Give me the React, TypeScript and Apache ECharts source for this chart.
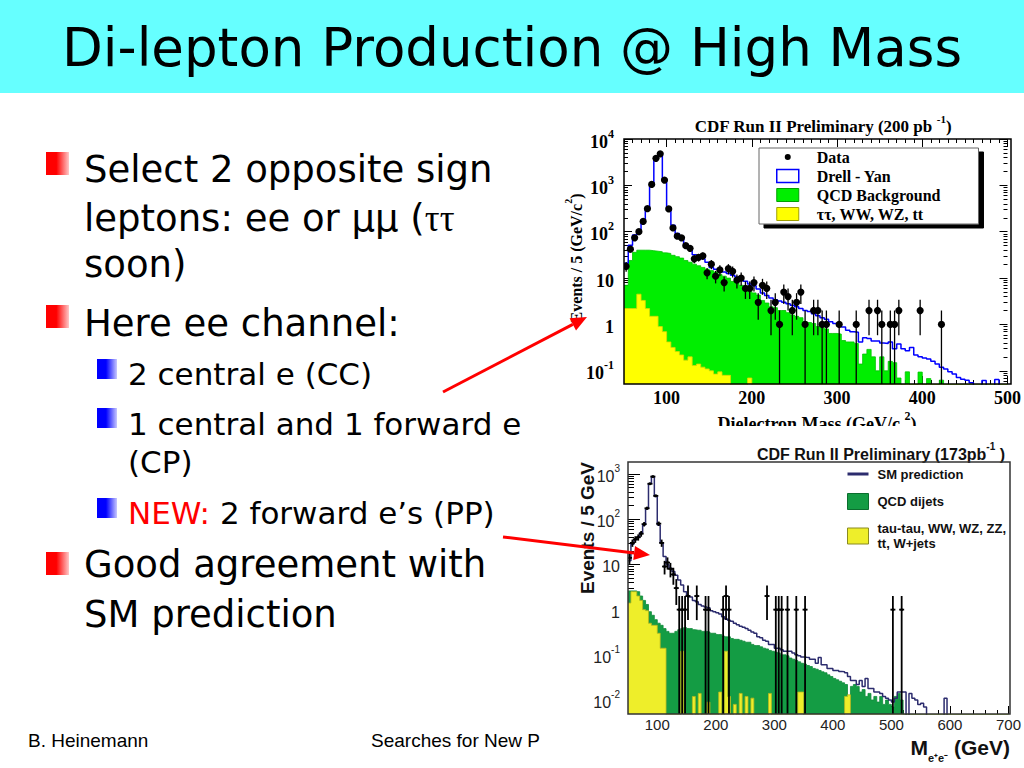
import { useEffect, useRef } from 'react';
import * as echarts from 'echarts';

// ---------- shared binning ----------
const X0 = 50; // first bin edge (GeV)
const BIN = 5; // bin width (GeV)
const FLOOR = 1e-4; // empty bins are drawn below the log axes

// ---------- top figure: CDF Run II Preliminary (200 pb-1) ----------
const topBinCount = 90; // 50 - 500 GeV
const topDrellYan = [
  21, 51, 85, 100, 170, 330, 1050, 3800, 4750, 1350,
  315, 138, 92, 78, 51, 44, 32, 30, 26, 22,
  17, 15.5, 14.5, 13.5, 12.5, 11.5, 10.5, 9.5, 8.5, 7.5,
  6.8, 5.8, 4.8, 4.2, 3.7, 3.4, 3.2, 3.0, 2.8, 2.6,
  2.4, 2.2, 2.0, 1.9, 1.7, 1.55, 1.4, 1.3, 1.15, 1.05,
  0.92, 0.88, 0.75, 0.7, 0.68, 0.42, 0.52, 0.5, 0.44, 0.44,
  0.4, 0.39, 0.42, 0.3, 0.38, 0.3, 0.27, 0.32, 0.22, 0.2,
  0.19, 0.18, 0.16, 0.14, 0.12, 0.11, 0.095, 0.085, 0.072, 0.066,
  0.063, 0.055, 0.04, 0.04, 0.062, 0.04, 0.04, 0.065, 0.04, 0.04,
];
const topQcd = [
  7, 24, 36, 40, 40, 40, 39, 38, 37, 35,
  34, 31, 29, 27, 24, 22, 20, 18.5, 17, 15.5,
  14.5, 13.5, 12, 11, 10, 8.5, 8, 7, 6, 5.5,
  4.8, 4.3, 3.3, 2.9, 2.4, 2.3, 2.0, 2.0, 1.8, 1.6,
  1.5, 1.4, 1.15, 1.1, 1.05, 0.9, 0.85, 0.8, 0.64, 0.64,
  0.62, 0.45, 0.42, 0.42, 0.39, 0.14, 0.23, 0.29, 0.2, 0.1,
  0.2, 0.1, 0.16, 0.15, 0.07, 0, 0.095, 0, 0, 0.094,
  0, 0.068, 0, 0, 0.063, 0, 0, 0, 0, 0,
];
const topOther = [
  2.2, 2.2, 2.2, 4.5, 3.3, 2.2, 1.5, 1.5, 0.9, 0.7,
  0.42, 0.32, 0.26, 0.22, 0.17, 0.2, 0.13, 0.14, 0.12, 0.11,
  0.1, 0.085, 0.095, 0.08, 0.08, 0, 0, 0, 0, 0.07,
];
const topData = [
  18, 42, 74, 100, 167, 315, 1050, 3830, 4780, 1300,
  310, 121, 80, 74, 50, 44, 26, 28, 30, 13,
  20, 11, 15, 8, 16, 14, 9, 10, 6, 6,
  8, 3, 7, 6, 2, 3, 1, 5, 4, 2,
  3, 5, 1, 0, 2, 2, 1, 1, 0, 0,
  1, 0, 0, 0, 1, 0, 0, 2, 0, 2,
  1, 0, 1, 1, 2, 0, 0, 0, 0, 2,
  0, 0, 0, 0, 1,
];
const topXLabels = [100, 200, 300, 400, 500];
const topYLabels = [0.1, 1, 10, 100, 1000, 10000];

// ---------- bottom figure: CDF Run II Preliminary (173 pb-1) ----------
const botBinCount = 130; // 50 - 700 GeV
const botSm = [
  12, 28, 35, 40, 50, 75, 170, 620, 880, 320,
  75, 30, 15, 9.8, 8.2, 7, 5.8, 4.5, 3.5, 2.5,
  2.0, 1.9, 1.6, 1.5, 1.3, 1.2, 1.15, 1.1, 0.95, 0.9,
  0.85, 0.8, 0.7, 0.62, 0.58, 0.55, 0.5, 0.46, 0.43, 0.41,
  0.38, 0.35, 0.32, 0.3, 0.25, 0.24, 0.21, 0.2, 0.17, 0.17,
  0.14, 0.14, 0.13, 0.12, 0.12, 0.12, 0.11, 0.1, 0.095, 0.09,
  0.088, 0.087, 0.08, 0.08, 0.065, 0.087, 0.06, 0.06, 0.05, 0.05,
  0.045, 0.045, 0.043, 0.042, 0.04, 0.033, 0.027, 0.027, 0.022, 0.027,
  0.02, 0.03, 0.018, 0.018, 0.015, 0.015, 0.014, 0.012, 0.011, 0.01,
  0.009, 0.011, 0.015, 0.015, 0.015, 0, 0.014, 0.011, 0.01, 0.008,
  0.0085, 0.007, 0, 0, 0, 0, 0, 0, 0.011,
];
const botQcd = [
  2.6, 2.6, 2.6, 2.5, 2.0, 1.6, 1.3, 0.9, 0.75, 0.6,
  0.5, 0.45, 0.38, 0.33, 0.3, 0.3, 0.33, 0.36, 0.38, 0.4,
  0.38, 0.38, 0.36, 0.35, 0.35, 0.33, 0.33, 0.32, 0.3, 0.3,
  0.28, 0.28, 0.26, 0.25, 0.25, 0.23, 0.22, 0.22, 0.21, 0.2,
  0.19, 0.19, 0.17, 0.16, 0.16, 0.15, 0.14, 0.135, 0.125, 0.12,
  0.115, 0.11, 0.1, 0.1, 0.095, 0.085, 0.08, 0.075, 0.07, 0.065,
  0.062, 0.058, 0.055, 0.05, 0.048, 0.045, 0.042, 0.04, 0.036, 0.033,
  0.03, 0.028, 0.026, 0.024, 0.022, 0.01, 0.02, 0.022, 0.02, 0.015,
  0.017, 0.012, 0.014, 0.01, 0.012, 0.009, 0.012, 0.008, 0.01, 0.008,
  0.007, 0.012, 0.014, 0.01, 0,
];
const botOther = [
  1.4, 2.5, 2.5, 2.0, 1.6, 1.0, 0.95, 0.5, 0.45, 0.45,
  0.3, 0.14, 0.14, 0, 0, 0, 0, 0, 0.12, 0,
  0, 0, 0.012, 0, 0.014, 0, 0, 0.009, 0, 0,
  0, 0.015, 0, 0.12, 0.012, 0, 0.008, 0, 0.014, 0,
  0.012, 0, 0.011, 0, 0, 0, 0, 0, 0.014, 0,
  0, 0, 0, 0, 0, 0, 0, 0, 0.015, 0.015,
  0, 0, 0, 0, 0, 0, 0, 0, 0, 0,
  0, 0, 0, 0, 0.012, 0.013,
];
const botData = [
  14, 30, 36, 40, 48, 78, 175, 610, 880, 330,
  80, 30, 9, 11, 8, 6, 3, 1, 1, 1,
  2, 0, 0, 2, 0, 0, 1, 1, 0, 0,
  0, 0, 1, 2, 1, 0, 0, 0, 0, 0,
  0, 0, 0, 0, 0, 0, 0, 2, 0, 0,
  1, 1, 1, 0, 1, 0, 0, 1, 0, 0,
  1, 0, 0, 0, 0, 0, 0, 0, 0, 0,
  0, 0, 0, 0, 0, 0, 0, 0, 0, 0,
  0, 0, 0, 0, 0, 0, 0, 0, 0, 0,
  1, 0, 0, 1,
];
const botXLabels = [100, 200, 300, 400, 500, 600, 700];
const botYLabels = [0.01, 0.1, 1, 10, 100, 1000];

// ---------- slide text ----------
const slideTitle = 'Di-lepton Production @ High Mass';
const footerLeft = 'B. Heinemann';
const footerMid = 'Searches for New P';

// ---------- layout ----------
const G1 = { left: 624, top: 139, width: 387, height: 245 };
const G2 = { left: 628, top: 462, width: 382, height: 252 };
const SERIF = 'Liberation Serif';
const SANS = 'Liberation Sans';
const SLIDE = 'DejaVu Sans';

function hist(vals: number[], n: number): number[][] {
  const pts: number[][] = [];
  for (let i = 0; i < n; i++) {
    const v = i < vals.length ? vals[i] : 0;
    pts.push([X0 + BIN * i, v > 0 ? v : FLOOR]);
  }
  pts.push([X0 + BIN * n, pts[n - 1][1]]);
  return pts;
}

function points(counts: number[]): number[][] {
  const out: number[][] = [];
  counts.forEach((n, i) => {
    if (n > 0) {
      const e = Math.sqrt(n);
      out.push([X0 + BIN * i + BIN / 2, n, Math.max(n - e, FLOOR), n + e]);
    }
  });
  return out;
}

function logMinor(lo: number, hi: number): number[] {
  const out: number[] = [];
  for (let e = lo; e <= hi; e++) for (let k = 2; k <= 9; k++) out.push(+(k * Math.pow(10, e)).toPrecision(3));
  return out;
}
function linMinor(from: number, to: number, step: number, major: number[]): number[] {
  const out: number[] = [];
  for (let v = from; v <= to; v += step) if (major.indexOf(v) < 0) out.push(v);
  return out;
}

function supRich(family: string, size: number, weight: string, color = '#000') {
  return {
    a: { fontFamily: family, fontSize: size, fontWeight: weight, fill: color, color, padding: [5, 0, 0, 0], verticalAlign: 'bottom' },
    s: { fontFamily: family, fontSize: Math.round(size * 0.65), fontWeight: weight, fill: color, color, verticalAlign: 'top' },
  };
}
const logLabel = (v: number) => {
  const e = Math.round(Math.log10(v));
  if (e === 0) return '{a|1}';
  if (e === 1) return '{a|10}';
  return `{a|10}{s|${e}}`;
};

function axes(gridIndex: number, position: string, scale: any, major: number[], minor: number[], majorLen: number, minorLen: number, label: any) {
  const base = {
    gridIndex, position, ...scale,
    axisLine: { show: false, onZero: false },
    splitLine: { show: false },
    axisPointer: { show: false },
    silent: true,
  };
  const tl = { color: '#000', width: 1 };
  return [
    { ...base, axisTick: { show: true, inside: true, length: majorLen, customValues: major, lineStyle: tl }, axisLabel: label ? { ...label, customValues: major } : { show: false } },
    { ...base, axisTick: { show: true, inside: true, length: minorLen, customValues: minor, lineStyle: tl }, axisLabel: { show: false } },
  ];
}

function errRender(r: number, lw: number, cap: number) {
  return (params: any, api: any) => {
    const cs = params.coordSys;
    const top = cs.y, bottom = cs.y + cs.height;
    const x = api.value(0), y = api.value(1), lo = api.value(2), hi = api.value(3);
    const p = api.coord([x, y]);
    const pl = api.coord([x, lo]);
    const ph = api.coord([x, hi]);
    const children: any[] = [
      { type: 'line', shape: { x1: p[0], y1: Math.max(ph[1], top), x2: p[0], y2: Math.min(pl[1], bottom) }, style: { stroke: '#000', lineWidth: lw } },
    ];
    if (cap > 0) children.push({ type: 'line', shape: { x1: p[0] - cap, y1: p[1], x2: p[0] + cap, y2: p[1] }, style: { stroke: '#000', lineWidth: lw } });
    if (p[1] <= bottom) children.push({ type: 'circle', shape: { cx: p[0], cy: p[1], r }, style: { fill: '#000' } });
    return { type: 'group', children };
  };
}

function arrow(x1: number, y1: number, x2: number, y2: number) {
  const dx = x2 - x1, dy = y2 - y1;
  const len = Math.sqrt(dx * dx + dy * dy);
  const ux = dx / len, uy = dy / len;
  const hl = 16, hw = 7;
  const bx = x2 - ux * hl, by = y2 - uy * hl;
  return [
    { type: 'line', z: 200, silent: true, shape: { x1, y1, x2: bx, y2: by }, style: { stroke: '#ff0000', lineWidth: 3 } },
    { type: 'polygon', z: 200, silent: true, shape: { points: [[x2, y2], [bx - uy * hw, by + ux * hw], [bx + uy * hw, by - ux * hw]] }, style: { fill: '#ff0000' } },
  ];
}

function grad(a: string, b: string) {
  return new echarts.graphic.LinearGradient(0, 0, 1, 0, [
    { offset: 0, color: a }, { offset: 0.45, color: a }, { offset: 1, color: b },
  ]);
}

function buildOption(): any {
  const topScaleX = { type: 'value', min: 50, max: 500 };
  const topScaleY = { type: 'log', logBase: 10, min: 0.052, max: 10000 };
  const botScaleX = { type: 'value', min: 50, max: 700 };
  const botScaleY = { type: 'log', logBase: 10, min: 0.0049, max: 1850 };

  const topXLabel = { show: true, margin: 5, fontFamily: SERIF, fontWeight: 'bold', fontSize: 18, color: '#000' };
  const topYLabel = { show: true, margin: 10, formatter: logLabel, rich: supRich(SERIF, 18, 'bold') };
  const botXLabel = { show: true, margin: 3, fontFamily: SANS, fontSize: 15, color: '#222' };
  const botYLabel = { show: true, margin: 8, formatter: logLabel, rich: supRich(SANS, 16, 'normal', '#222') };

  const topXMinor = linMinor(50, 500, 10, topXLabels);
  const botXMinor = linMinor(60, 700, 20, botXLabels);

  const xAxis = [
    ...axes(0, 'bottom', topScaleX, topXLabels, topXMinor, 8, 4, topXLabel),
    ...axes(0, 'top', topScaleX, topXLabels, topXMinor, 8, 4, null),
    ...axes(1, 'bottom', botScaleX, botXLabels, botXMinor, 8, 4, botXLabel),
  ];
  const yAxis = [
    ...axes(0, 'left', topScaleY, topYLabels, logMinor(-2, 3), 8, 4, topYLabel),
    ...axes(0, 'right', topScaleY, topYLabels, logMinor(-2, 3), 8, 4, null),
    ...axes(1, 'left', botScaleY, botYLabels, logMinor(-3, 3), 12, 6, botYLabel),
  ];

  const common = { type: 'line', step: 'end', symbol: 'none', silent: true, emphasis: { disabled: true }, clip: true };
  const series: any[] = [
    { ...common, name: 'QCD Background', xAxisIndex: 0, yAxisIndex: 0, data: hist(topQcd, topBinCount),
      lineStyle: { color: '#00c400', width: 0.8 }, itemStyle: { color: '#00ee00' }, areaStyle: { color: '#00ee00', opacity: 1, origin: 'start' }, z: 2 },
    { ...common, name: 'ττ, WW, WZ, tt', xAxisIndex: 0, yAxisIndex: 0, data: hist(topOther, topBinCount),
      lineStyle: { color: '#d8d800', width: 0.8 }, itemStyle: { color: '#ffff00' }, areaStyle: { color: '#ffff00', opacity: 1, origin: 'start' }, z: 3 },
    { ...common, name: 'Drell - Yan', xAxisIndex: 0, yAxisIndex: 0, data: hist(topDrellYan, topBinCount),
      lineStyle: { color: '#0000ff', width: 1.5 }, itemStyle: { color: '#0000ff' }, z: 4 },
    { type: 'custom', name: 'Data', xAxisIndex: 0, yAxisIndex: 0, silent: true, clip: true,
      dimensions: ['x', 'y', 'lo', 'hi'], encode: { x: 0, y: 1 },
      renderItem: errRender(3.6, 1.3, 0), data: points(topData), itemStyle: { color: '#000' }, z: 6 },

    { ...common, name: 'QCD dijets', xAxisIndex: 4, yAxisIndex: 4, data: hist(botQcd, botBinCount),
      lineStyle: { color: '#0f8a3a', width: 0.8 }, itemStyle: { color: '#149c44' }, areaStyle: { color: '#149c44', opacity: 1, origin: 'start' }, z: 2 },
    { ...common, name: 'tau-tau, WW, WZ, ZZ, tt, W+jets', xAxisIndex: 4, yAxisIndex: 4, data: hist(botOther, botBinCount),
      lineStyle: { color: '#b8b820', width: 0.8 }, itemStyle: { color: '#eeee2a' }, areaStyle: { color: '#eeee2a', opacity: 1, origin: 'start' }, z: 3 },
    { ...common, name: 'SM prediction', xAxisIndex: 4, yAxisIndex: 4, data: hist(botSm, botBinCount),
      lineStyle: { color: '#2c2c6e', width: 1.5 }, itemStyle: { color: '#2c2c6e' }, z: 4 },
    { type: 'custom', name: 'Data (PP)', xAxisIndex: 4, yAxisIndex: 4, silent: true, clip: true,
      dimensions: ['x', 'y', 'lo', 'hi'], encode: { x: 0, y: 1 },
      renderItem: errRender(1.4, 1.8, 2.5), data: points(botData), itemStyle: { color: '#000' }, z: 6 },
  ];

  const dataIcon = 'path://M0,0L0.01,0M22,13L21.99,13M8,6.5A3,3 0 1,0 14,6.5A3,3 0 1,0 8,6.5Z';
  const lineIcon = 'path://M0,0L0.01,0M0,6.5H21V9.5H0ZM21,16L20.99,16';

  const legend = [
    {
      left: 759, top: 148, orient: 'vertical', selectedMode: false,
      backgroundColor: '#fff', borderColor: '#666', borderWidth: 1,
      shadowColor: '#000', shadowBlur: 0, shadowOffsetX: 5, shadowOffsetY: 4,
      padding: [1, 38, 2, 17], itemGap: 3, itemWidth: 22, itemHeight: 13,
      textStyle: { fontFamily: SERIF, fontWeight: 'bold', fontSize: 16, color: '#000', lineHeight: 16, padding: [0, 0, 0, 13] },
      data: [
        { name: 'Data', icon: dataIcon, itemStyle: { color: '#000', borderWidth: 0 } },
        { name: 'Drell - Yan', icon: 'rect', itemStyle: { color: '#fff', borderColor: '#0000ff', borderWidth: 1.5 } },
        { name: 'QCD Background', icon: 'rect', itemStyle: { color: '#00ee00', borderColor: '#00a000', borderWidth: 1 } },
        { name: 'ττ, WW, WZ, tt', icon: 'rect', itemStyle: { color: '#ffff00', borderColor: '#a0a000', borderWidth: 1 } },
      ],
    },
    {
      left: 847, top: 466, orient: 'vertical', selectedMode: false, padding: 0,
      itemGap: 11, itemWidth: 21, itemHeight: 16,
      textStyle: { fontFamily: SANS, fontWeight: 'bold', fontSize: 13, color: '#111', lineHeight: 15, padding: [0, 0, 0, 4] },
      formatter: (name: string) => name.replace(', tt,', ',\ntt,'),
      data: [
        { name: 'SM prediction', icon: lineIcon, itemStyle: { color: '#2c2c6e', borderWidth: 0 } },
        { name: 'QCD dijets', icon: 'rect', itemStyle: { color: '#149c44', borderColor: '#0b6e2e', borderWidth: 1 } },
        { name: 'tau-tau, WW, WZ, ZZ, tt, W+jets', icon: 'rect', itemStyle: { color: '#eeee2a', borderColor: '#8a8a20', borderWidth: 1 } },
      ],
    },
  ];

  const red = grad('#ff0000', '#ffc8c8');
  const blue = grad('#0000ff', '#c8c8ff');
  const sq = (x: number, y: number, s: number, fill: any) => ({ type: 'rect', silent: true, shape: { x, y, width: s, height: s }, style: { fill } });
  const main = (x: number, y: number, text: string) => ({ type: 'text', x, y, silent: true, style: { text, fontFamily: SLIDE, fontSize: 37, fill: '#000', align: 'left', verticalAlign: 'middle' } });
  const sub = (x: number, y: number, text: string) => ({ type: 'text', x, y, silent: true, style: { text, fontFamily: SLIDE, fontSize: 31, fill: '#000', align: 'left', verticalAlign: 'middle' } });

  const elements: any[] = [
    { type: 'rect', silent: true, shape: { x: 0, y: 0, width: 1024, height: 93 }, style: { fill: '#66ffff' } },
    { type: 'text', x: 512, y: 47, silent: true, style: { text: slideTitle, fontFamily: SLIDE, fontSize: 53, fill: '#000', align: 'center', verticalAlign: 'middle' } },

    sq(46, 152, 23, red), sq(46, 305, 23, red), sq(46, 552, 23, red),
    sq(97, 359, 20, blue), sq(97, 408, 20, blue), sq(97, 498, 20, blue),

    main(84, 169, 'Select 2 opposite sign'),
    { type: 'text', x: 84, y: 218, silent: true, style: {
      text: '{n|leptons: ee or μμ (}{g|ττ}', align: 'left', verticalAlign: 'middle',
      rich: { n: { fontFamily: SLIDE, fontSize: 37, fill: '#000' }, g: { fontFamily: SERIF, fontSize: 37, fill: '#000' } } } },
    main(84, 264, 'soon)'),
    main(84, 323, 'Here ee channel:'),
    sub(128, 374, '2 central e (CC)'),
    sub(128, 424, '1 central and 1 forward e'),
    sub(128, 462, '(CP)'),
    { type: 'text', x: 128, y: 513, silent: true, style: {
      text: '{r|NEW:}{k| 2 forward e’s (PP)}', align: 'left', verticalAlign: 'middle',
      rich: { r: { fontFamily: SLIDE, fontSize: 31, fill: '#ff0000' }, k: { fontFamily: SLIDE, fontSize: 31, fill: '#000' } } } },
    main(84, 564, 'Good agreement with'),
    main(84, 614, 'SM prediction'),

    { type: 'text', x: 28, y: 740, silent: true, style: { text: footerLeft, fontFamily: SANS, fontSize: 19, fill: '#000', align: 'left', verticalAlign: 'middle' } },
    { type: 'text', x: 371, y: 740, silent: true, style: { text: footerMid, fontFamily: SANS, fontSize: 19, fill: '#000', align: 'left', verticalAlign: 'middle' } },

    // top figure texts
    { type: 'text', x: 823, y: 124, silent: true, z: 50, style: { text: '{a|CDF Run II Preliminary (200 pb }{s|-1}{a|)}', align: 'center', verticalAlign: 'middle', rich: supRich(SERIF, 17, 'bold') } },
    { type: 'text', x: 574, y: 258, rotation: Math.PI / 2, silent: true, z: 50, style: { text: '{a|Events / 5 (GeV/c}{s|2}{a|)}', align: 'center', verticalAlign: 'middle', rich: supRich(SERIF, 16, 'bold') } },
    { type: 'text', x: 817, y: 421, silent: true, z: 50, style: { text: '{a|Dielectron Mass (GeV/c }{s|2}{a|)}', align: 'center', verticalAlign: 'middle', rich: supRich(SERIF, 18, 'bold') } },
    { type: 'rect', silent: true, z: 60, shape: { x: 553, y: 426, width: 471, height: 10 }, style: { fill: '#fff' } },
    { type: 'rect', silent: true, z: 100, shape: { x: G1.left, y: G1.top, width: G1.width, height: G1.height }, style: { fill: 'none', stroke: '#000', lineWidth: 1.5 } },

    // bottom figure texts
    { type: 'text', x: 1005, y: 452, silent: true, z: 50, style: { text: '{a|CDF Run II Preliminary (173pb}{s|-1}{a| )}', align: 'right', verticalAlign: 'middle', rich: supRich(SANS, 16, 'bold', '#111') } },
    { type: 'text', x: 587, y: 528, rotation: Math.PI / 2, silent: true, z: 50, style: { text: 'Events / 5 GeV', fontFamily: SANS, fontWeight: 'bold', fontSize: 19, fill: '#111', align: 'center', verticalAlign: 'middle' } },
    { type: 'text', x: 1010, y: 750, silent: true, z: 50, style: {
      text: '{m|M}{e|e⁺e⁻}{m| (GeV)}', align: 'right', verticalAlign: 'middle',
      rich: {
        m: { fontFamily: SANS, fontWeight: 'bold', fontSize: 21, fill: '#111', verticalAlign: 'top', padding: [0, 0, 5, 0] },
        e: { fontFamily: SANS, fontWeight: 'bold', fontSize: 11, fill: '#111', verticalAlign: 'bottom' },
      } } },
    { type: 'rect', silent: true, z: 100, shape: { x: G2.left, y: G2.top, width: G2.width, height: G2.height }, style: { fill: 'none', stroke: '#333', lineWidth: 1.5 } },

    ...arrow(443, 392, 587, 317),
    ...arrow(503, 537, 650, 555),
  ];

  return {
    animation: false,
    backgroundColor: '#ffffff',
    grid: [{ ...G1, show: false }, { ...G2, show: false }],
    xAxis,
    yAxis,
    legend,
    series,
    graphic: { elements },
  };
}

export default function App() {
  const ref = useRef<HTMLDivElement>(null);
  useEffect(() => {
    if (!ref.current) return;
    const chart = echarts.init(ref.current, undefined, { renderer: 'svg' });
    chart.setOption(buildOption());
    return () => chart.dispose();
  }, []);
  return <div ref={ref} style={{ position: 'absolute', left: 0, top: 0, width: 1024, height: 768 }} />;
}
